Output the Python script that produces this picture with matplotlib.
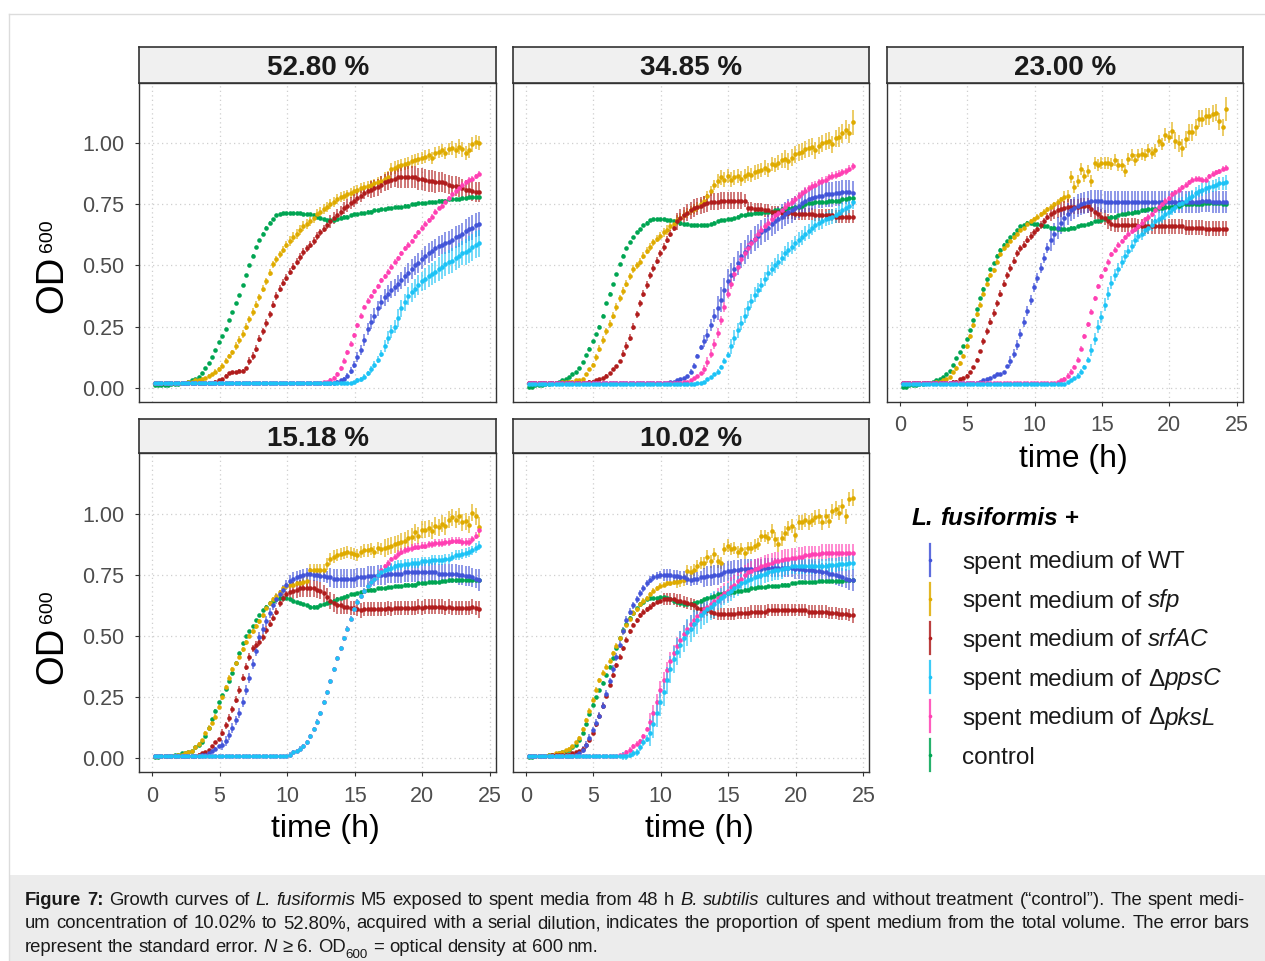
import numpy as np
import matplotlib
matplotlib.use("Agg")
import matplotlib.pyplot as plt
from matplotlib.lines import Line2D
from matplotlib.patches import Rectangle
from matplotlib import font_manager

plt.rcParams['font.family'] = ['Liberation Sans', 'DejaVu Sans']

W, H, DPI = 1265, 961, 100

# sampling times (h), one reading every 15 min
TIME_H = 0.2 + 0.25 * np.arange(97)

PANEL_LABELS = ["52.80 %", "34.85 %", "23.00 %", "15.18 %", "10.02 %"]
SERIES_KEYS = ["WT", "sfp", "srfAC", "ppsC", "pksL", "control"]
COLORS = {"WT": "#4254d8", "sfp": "#dfab00", "srfAC": "#b01d1d",
          "ppsC": "#1cc3f6", "pksL": "#ff40b3", "control": "#00a552"}
DRAW_ORDER = ["control", "sfp", "srfAC", "WT", "pksL", "ppsC"]
XTICKS = [0, 5, 10, 15, 20, 25]
YTICKS = [0.0, 0.25, 0.5, 0.75, 1.0]
YTICK_LABELS = ["0.00", "0.25", "0.50", "0.75", "1.00"]

# ---------------- OD600 means and SE, in units of 0.01 ----------------
# ---- 52.80 % ----
CTRL_52 = [
 1,1,1,1, 1,1.5,1.5,1.5, 2,2,2.5,3, 3.5,4.5,6,8,
 10,12.5,15.5,18.5, 21,24,27.5,31, 34.5,38,42,46, 50,54,57.5,60.5,
 63,65.5,67.5,69, 70.5,71,71.5,71.5, 71.5,71.5,71.5,71.5, 71,71,71,70.5,
 70,69.5,69,68.5, 68.5,68.5,69,69.5, 70,70,70.5,71, 71,71.5,71.5,72,
 72,72.5,72.5,73, 73,73.5,73.5,74, 74,74,74.5,74.5, 75,75,75.5,75.5,
 75.5,76,76,76, 76.5,76.5,76.5,77, 77,77,77,77.5, 77.5,78,78,78,
 78]
CTRL_52_SE = [
 0,0,0,0, 0,0,0,0, 0,0,0,0, 0,0,0,0,
 .5,.5,.5,.5, .5,.5,.5,.5, .5,.5,.5,.5, .5,.5,.5,.5,
 .5,.5,.5,.5, .5,.5,.5,.5, .5,.5,.5,.5, .5,.5,.5,.5,
 .5,.5,.5,.5, .5,.5,.5,.5, .5,.5,.5,.5, .5,.5,.5,.5,
 .5,.5,.5,.5, .5,.5,.5,.5, .5,.5,.5,.5, .5,.5,.5,.5,
 .5,.5,.5,.5, .5,.5,.5,.5, .5,.5,.5,.5, .5,.5,.5,.5,
 .5]
SFP_52 = [
 2,2,2,2, 2,2,2,2, 2,2,2.5,2.5, 3,3,3.5,4,
 5,5.5,6.5,7.5, 9,11,13,14.5, 17,19.5,22,25, 28,31,34,37,
 40.5,43.5,47,50.5, 52.5,54.5,56.5,58.5, 60,61.5,63,64.5, 66,67,68,69.5,
 71,72,73,74, 75,76,77,78, 78.5,79,79.5,80.5, 81,81.5,82,82.5,
 83,83.5,84,84.5, 85.5,86,89.5,90, 90.5,91,91.5,92, 92.5,93,93.5,94,
 94.5,95,94,96, 96.5,97,96,97.5, 98,97,98.5,97.5, 96,97,99.5,100.5,
 100]
SFP_52_SE = [
 .5,.5,.5,.5, .5,.5,.5,.5, .5,.5,.5,.5, .5,.5,.5,.5,
 .5,.5,1,1, 1,1,1,1, 1.5,1.5,1.5,1.5, 1.5,1.5,1.5,1.5,
 1.5,1.5,1.5,1.5, 1.5,1.5,1.5,1.5, 2,2,2,2, 2,2,2,2,
 2,2,2,2, 2,2,2,2, 2,2,2,2, 2,2,2,2,
 2,2,2,2, 2.5,2.5,2.5,2.5, 2.5,2.5,2.5,2.5, 2.5,2.5,2.5,2.5,
 2.5,2.5,2.5,2.5, 2.5,2.5,2.5,2.5, 3,3,3,3, 3,3,3,3,
 3]
SRF_52 = [
 2,2,2,2, 2,2,2,2, 2,2,2,2, 2,2,2,2,
 2,2,2.5,3, 3.5,5,6,6.5, 6.5,7,7,8, 11,13,16,20,
 23,26.5,30,34, 37.5,40.5,43,45, 47.5,49.5,51.5,53.5, 55.5,57,58.5,60,
 62,63.5,65,66.5, 68,69.5,70.5,72, 73.5,74.5,75.5,76.5, 77.5,78.5,79.5,80.5,
 81,81.5,82,83, 84,84.5,85,85.5, 86,86,86,86, 86,86,85.5,85.5,
 85,84.5,84.5,84, 84,84,83.5,83, 82.5,82.5,82,81.5, 81,81,80.5,80,
 80]
SRF_52_SE = [
 .5,.5,.5,.5, .5,.5,.5,.5, .5,.5,.5,.5, .5,.5,.5,.5,
 .5,.5,.5,.5, .5,.5,.5,.5, .5,.5,.5,.5, 1.5,1.5,1.5,1.5,
 1.5,1.5,1.5,1.5, 1.5,1.5,1.5,1.5, 1.5,1.5,1.5,1.5, 1.5,1.5,1.5,1.5,
 1.5,1.5,1.5,1.5, 2.5,2.5,2.5,2.5, 2.5,2.5,2.5,2.5, 2.5,2.5,2.5,2.5,
 3.5,3.5,3.5,3.5, 3.5,3.5,3.5,3.5, 4.5,4.5,4.5,4.5, 4.5,4.5,4.5,4.5,
 4.5,4.5,4.5,4.5, 4,4,4,4, 4,4,4,4, 4,4,4,4,
 4]
WT_52 = [
 2,2,2,2, 2,2,2,2, 2,2,2,2, 2,2,2,2,
 2,2,2,2, 2,2,2,2, 2,2,2,2, 2,2,2,2,
 2,2,2,2, 2,2,2,2, 2,2,2,2, 2,2,2,2,
 2,2,2,2, 2,2,2.5,3, 3.5,5,7,9.5, 12.5,15.5,19.5,24,
 27,29.5,32.5,35, 37,38.5,40,41, 42.5,44,45.5,47, 48.5,50,51,52.5,
 54,55,56,57, 58,58.5,59,59.5, 60.5,61.5,62,63, 64,65,65.5,66.5,
 67]
WT_52_SE = [
 0,0,0,0, 0,0,0,0, 0,0,0,0, 0,0,0,0,
 0,0,0,0, 0,0,0,0, 0,0,0,0, 0,0,0,0,
 0,0,0,0, 0,0,0,0, 0,0,0,0, 0,0,0,0,
 0,0,0,0, 0,0,.5,.5, 1,1,1.5,1.5, 2,2,2.5,2.5,
 3,3,3,3, 3.5,3.5,3.5,3.5, 3.5,3.5,4,4, 4,4,4,4,
 4,4,4,4, 4,4,4.5,4.5, 4.5,4.5,4.5,4.5, 5,5,5,5,
 5]
PKS_52 = [
 2,2,2,2, 2,2,2,2, 2,2,2,2, 2,2,2,2,
 2,2,2,2, 2,2,2,2, 2,2,2,2, 2,2,2,2,
 2,2,2,2, 2,2,2,2, 2,2,2,2, 2,2,2,2,
 2,2,2.5,2.5, 3,4,5.5,8, 11,14.5,18,21.5, 25.5,29.5,33,35.5,
 37.5,39.5,41.5,44, 45.5,47.5,49.5,51.5, 53,55,57,58.5, 60,62,63.5,65.5,
 67,68.5,70,72, 73.5,74.5,76,77.5, 79,80.5,81.5,83, 84,85,85.5,86.5,
 87.5]
PKS_52_SE = [
 0,0,0,0, 0,0,0,0, 0,0,0,0, 0,0,0,0,
 0,0,0,0, 0,0,0,0, 0,0,0,0, 0,0,0,0,
 0,0,0,0, 0,0,0,0, 0,0,0,0, 0,0,0,0,
 0,0,0,0, 1,1,1,1, 1,1,1,1, 1,1,1,1,
 1,1,1,1, 1,1,1,1, 1,1,1,1, 1,1,1,1,
 1,1,1,1, 1,1,1,1, 1,1,1,1, 1,1,1,1,
 1]
PPS_52 = [
 2,2,2,2, 2,2,2,2, 2,2,2,2, 2,2,2,2,
 2,2,2,2, 2,2,2,2, 2,2,2,2, 2,2,2,2,
 2,2,2,2, 2,2,2,2, 2,2,2,2, 2,2,2,2,
 2,2,2,2, 2,2,2,2, 2,2,2,2.5, 3,3.5,4.5,6,
 7.5,9.5,11.5,14, 17,20.5,23,25, 28.5,32.5,35,37.5, 39,40.5,42,43.5,
 44.5,45.5,46.5,47.5, 48.5,49.5,50.5,51.5, 52,53,54,55, 55.5,56.5,57.5,58.5,
 59]
PPS_52_SE = [
 0,0,0,0, 0,0,0,0, 0,0,0,0, 0,0,0,0,
 0,0,0,0, 0,0,0,0, 0,0,0,0, 0,0,0,0,
 0,0,0,0, 0,0,0,0, 0,0,0,0, 0,0,0,0,
 0,0,0,0, 0,0,0,0, 0,0,0,0, 1,1,1,1,
 1.5,1.5,1.5,1.5, 2.5,2.5,2.5,2.5, 3.5,3.5,3.5,3.5, 4,4,4,4,
 4.5,4.5,4.5,4.5, 5,5,5,5, 5,5,5,5, 5.5,5.5,5.5,5.5,
 5.5]

# ---- 34.85 % ----
CTRL_34 = [
 .5,.5,1,1, 1,1.5,1.5,2, 2,2.5,3,3.5, 4.5,5.5,6.5,8,
 10.5,13.5,16,19, 22,25,29.5,34.5, 38.5,42.5,46.5,50.5, 54,57,59.5,61.5,
 63.5,65,66.5,67.5, 68.5,69,69,69, 69,68.5,68.5,68, 68,67.5,67,67,
 66.5,66.5,66.5,66.5, 66.5,66.5,67,67.5, 68,68.5,68.5,69, 69,69.5,70,70.5,
 70.5,71,71,71.5, 71.5,71.5,72,72, 72,72.5,72.5,73, 73,73.5,73.5,74,
 74,74.5,75,75.5, 75.5,76,76,76, 76,76.5,76.5,76.5, 76.5,77,77,77.5,
 77.5]
CTRL_34_SE = [
 0,0,0,0, 0,0,0,0, 0,0,0,0, 0,0,0,0,
 .5,.5,.5,.5, .5,.5,.5,.5, .5,.5,.5,.5, .5,.5,.5,.5,
 .5,.5,.5,.5, .5,.5,.5,.5, .5,.5,.5,.5, .5,.5,.5,.5,
 .5,.5,.5,.5, .5,.5,.5,.5, .5,.5,.5,.5, .5,.5,.5,.5,
 .5,.5,.5,.5, .5,.5,.5,.5, .5,.5,.5,.5, .5,.5,.5,.5,
 .5,.5,.5,.5, .5,.5,.5,.5, .5,.5,.5,.5, .5,.5,.5,.5,
 .5]
SFP_34 = [
 2,2,2,2, 2,2,2,2, 2,2,2.5,2.5, 2.5,2.5,3,3,
 3.5,5.5,7.5,9.5, 12.5,16,19.5,23, 26,29.5,33,36.5, 39.5,42.5,45.5,48.5,
 50,51.5,54,56, 57.5,59.5,61,62, 63.5,64.5,66,67, 68.5,69.5,70.5,71.5,
 72.5,73,74,75, 76.5,78.5,80.5,83, 84.5,86,85,86.5, 85,86,86.5,85.5,
 86.5,87.5,87,88, 88.5,89,90,89, 91.5,91,92,93, 93.5,92.5,94,95.5,
 96,96.5,97.5,98, 98.5,97,99,100, 100.5,101,99.5,102, 102.5,104,105.5,104,
 108.5]
SFP_34_SE = [
 .5,.5,.5,.5, .5,.5,.5,.5, .5,.5,.5,.5, .5,.5,.5,.5,
 .5,.5,.5,.5, 1.5,1.5,1.5,1.5, 1.5,1.5,1.5,1.5, 1.5,1.5,1.5,1.5,
 1.5,1.5,1.5,1.5, 1.5,1.5,1.5,1.5, 2,2,2,2, 2,2,2,2,
 2,2,2,2, 2,2,2,2, 3,3,3,3, 3,3,3,3,
 3,3,3,3, 3,3,3,3, 3,3,3,3, 3.5,3.5,3.5,3.5,
 3.5,3.5,3.5,3.5, 3.5,3.5,3.5,3.5, 3.5,3.5,3.5,3.5, 4,4,4,4,
 5]
SRF_34 = [
 2,2,2,2, 2,2,2,2, 2,2,2,2, 2,2,2,2,
 2,2,2.5,2.5, 3,3.5,4,5, 6,7.5,9,11, 14,17,20.5,25,
 30,34.5,38.5,42, 46,49,52,55, 57.5,60.5,63,65.5, 68,69.5,70.5,71.5,
 72.5,73.5,74,74.5, 75,75.5,76,76, 76,76.5,76.5,76.5, 76.5,76.5,76.5,76.5,
 76.5,73.5,73.5,73, 73,73,72.5,72.5, 72,72,72,71.5, 71.5,71.5,71.5,71,
 71,71,71,71, 71,70.5,70.5,70.5, 70.5,70.5,70.5,70, 70,70,70,70,
 70]
SRF_34_SE = [
 .5,.5,.5,.5, .5,.5,.5,.5, .5,.5,.5,.5, .5,.5,.5,.5,
 .5,.5,.5,.5, .5,.5,.5,.5, .5,.5,.5,.5, 1.5,1.5,1.5,1.5,
 1.5,1.5,1.5,1.5, 1.5,1.5,1.5,1.5, 1.5,1.5,1.5,1.5, 3.5,3.5,3.5,3.5,
 3.5,3.5,3.5,3.5, 3.5,3.5,3.5,3.5, 3.5,3.5,3.5,3.5, 3.5,3.5,3.5,3.5,
 2.5,2.5,2.5,2.5, 2.5,2.5,2.5,2.5, 2.5,2.5,2.5,2.5, 2.5,2.5,2.5,2.5,
 2.5,2.5,2.5,2.5, 2.5,2.5,2.5,2.5, 2.5,2.5,2.5,2.5, 2.5,2.5,2.5,2.5,
 2.5]
WT_34 = [
 2,2,2,2, 2,2,2,2, 2,2,2,2, 2,2,2,2,
 2,2,2,2, 2,2,2,2, 2,2,2,2, 2,2,2,2,
 2,2,2,2, 2,2,2,2, 2,2,2.5,2.5, 3,3.5,4,5,
 6.5,9,13,16.5, 19,21.5,25.5,29.5, 32.5,36,40,43.5, 46,48.5,51,54,
 55.5,57.5,59.5,61, 62,63.5,64.5,65.5, 67,68,69,70, 71,72,72.5,73.5,
 74.5,75.5,76.5,77, 77.5,78,78.5,78.5, 79,79,79,79.5, 79.5,80,80,80,
 79.5]
WT_34_SE = [
 0,0,0,0, 0,0,0,0, 0,0,0,0, 0,0,0,0,
 0,0,0,0, 0,0,0,0, 0,0,0,0, 0,0,0,0,
 0,0,0,0, 0,0,0,0, 0,0,0,0, 0,0,0,0,
 1,1,1,1, 2.5,2.5,2.5,2.5, 5,5,5,5, 5,5,5,5,
 5,5,5,5, 5,5,5,5, 5,5,5,5, 5,5,5,5,
 5,5,5,5, 5,5,5,5, 5,5,5,5, 5,5,5,5,
 5]
PKS_34 = [
 2,2,2,2, 2,2,2,2, 2,2,2,2, 2,2,2,2,
 2,2,2,2, 2,2,2,2, 2,2,2,2, 2,2,2,2,
 2,2,2,2, 2,2,2,2, 2,2,2,2, 2,2,2.5,2.5,
 3,4,5,6, 7.5,10.5,14,18, 22.5,27.5,33,38.5, 42.5,46.5,49.5,52.5,
 55,57,59,61, 63,64.5,66,67.5, 69,70.5,71.5,72.5, 74,75,76,77,
 78.5,79.5,80.5,81.5, 82.5,83,84,84.5, 85,86,86.5,87, 87.5,88,88.5,89.5,
 90.5]
PKS_34_SE = [
 0,0,0,0, 0,0,0,0, 0,0,0,0, 0,0,0,0,
 0,0,0,0, 0,0,0,0, 0,0,0,0, 0,0,0,0,
 0,0,0,0, 0,0,0,0, 0,0,0,0, 0,0,0,0,
 0,0,0,0, 2,2,2,2, 2,2,2,2, 2,2,2,2,
 2,2,2,2, 1.5,1.5,1.5,1.5, 1.5,1.5,1.5,1.5, 1.5,1.5,1.5,1.5,
 1.5,1.5,1.5,1.5, 1.5,1.5,1.5,1.5, 1.5,1.5,1.5,1.5, 1.5,1.5,1.5,1.5,
 1.5]
PPS_34 = [
 1.5,1.5,1.5,1.5, 1.5,1.5,1.5,1.5, 1.5,1.5,1.5,1.5, 1.5,1.5,1.5,1.5,
 1.5,1.5,1.5,1.5, 1.5,1.5,1.5,1.5, 1.5,1.5,1.5,1.5, 1.5,1.5,1.5,1.5,
 1.5,1.5,1.5,1.5, 1.5,1.5,1.5,1.5, 1.5,1.5,1.5,1.5, 1.5,1.5,1.5,1.5,
 1.5,1.5,2,2, 2.5,3.5,4.5,5.5, 6.5,8.5,11,13.5, 17,20.5,23.5,26.5,
 29.5,32.5,35.5,38, 40,42,44.5,47, 48.5,50,51.5,53, 55,56.5,57.5,59,
 60.5,61.5,63,64, 65.5,66.5,67.5,68, 69,69.5,70,70.5, 71.5,72.5,73.5,74.5,
 76]
PPS_34_SE = [
 0,0,0,0, 0,0,0,0, 0,0,0,0, 0,0,0,0,
 0,0,0,0, 0,0,0,0, 0,0,0,0, 0,0,0,0,
 0,0,0,0, 0,0,0,0, 0,0,0,0, 0,0,0,0,
 0,0,0,0, 0,0,0,0, 1,1,1,1, 3,3,3,3,
 3,3,3,3, 3,3,3,3, 3,3,3,3, 3,3,3,3,
 3,3,3,3, 3,3,3,3, 3,3,3,3, 3,3,3,3,
 3]

# ---- 23.00 % ----
CTRL_23 = [
 .5,.5,1,1, 1,1.5,1.5,2, 2,2.5,3,3.5, 4.5,5.5,7,9.5,
 12,14.5,17,20, 23.5,27.5,32,36.5, 40.5,44.5,48.5,51, 54,56.5,58.5,60,
 61.5,63,64.5,66, 66.5,67.5,67.5,67, 67,66.5,66,66, 65.5,65.5,65,65,
 65,65,65.5,65.5, 66,66.5,66.5,67, 67.5,68,68,68.5, 69,69.5,70,70,
 70.5,71,71,71.5, 71.5,72,72,72.5, 72.5,73,73,73, 73.5,73.5,74,74,
 74,74.5,74.5,75, 75,75,75,75, 75,75,75.5,75.5, 75.5,75.5,75.5,75,
 75]
CTRL_23_SE = [
 0,0,0,0, 0,0,0,0, 0,0,0,0, 0,0,0,0,
 .5,.5,.5,.5, .5,.5,.5,.5, .5,.5,.5,.5, .5,.5,.5,.5,
 .5,.5,.5,.5, .5,.5,.5,.5, .5,.5,.5,.5, .5,.5,.5,.5,
 .5,.5,.5,.5, .5,.5,.5,.5, .5,.5,.5,.5, .5,.5,.5,.5,
 .5,.5,.5,.5, .5,.5,.5,.5, .5,.5,.5,.5, .5,.5,.5,.5,
 .5,.5,.5,.5, .5,.5,.5,.5, .5,.5,.5,.5, .5,.5,.5,.5,
 .5]
SFP_23 = [
 2,2,2,2, 2,2,2,2, 2,2,2.5,2.5, 3,3.5,4.5,6.5,
 8,10,13,17, 21,25.5,30,34, 38.5,42.5,46,48, 51.5,54.5,57,58.5,
 60,61.5,63,64.5, 65.5,67,68,69, 70,71,72,73, 74,75,76,77,
 78,78.5,86,82, 84.5,89.5,86.5,88.5, 84.5,92,91,92, 92,92,91.5,93,
 91,91,88.5,93.5, 95,93,95,95.5, 95,97,96,97, 101,99.5,103.5,102.5,
 105,101,100,98, 101.5,104.5,104.5,106.5, 110,110,111,111, 112,112.5,109,106.5,
 114]
SFP_23_SE = [
 .5,.5,.5,.5, .5,.5,.5,.5, .5,.5,.5,.5, .5,.5,.5,.5,
 1,1,1,1, 1,1,1,1, 1,1,1,1, 1,1,1,1,
 1,1,1,1, 1,1,1,1, 1,1,1,1, 1,1,1,1,
 2.5,2.5,2.5,2.5, 2.5,2.5,2.5,2.5, 2.5,2.5,2.5,2.5, 2.5,2.5,2.5,2.5,
 2.5,2.5,2.5,2.5, 2.5,2.5,2.5,2.5, 2.5,2.5,2.5,2.5, 2.5,2.5,2.5,2.5,
 3.5,3.5,3.5,3.5, 3.5,3.5,3.5,3.5, 3.5,3.5,3.5,3.5, 3.5,3.5,3.5,3.5,
 5]
SRF_23 = [
 2,2,2,2, 2,2,2,2, 2,2,2,2, 2,2,2,2.5,
 2.5,3.5,4,5, 6.5,8.5,11.5,15, 19,23,27,30.5, 34.5,38.5,42.5,46,
 49,52,55,57, 58.5,60.5,62,63.5, 65,66.5,68,70, 71,72,72.5,73,
 73.5,74,74,74, 74,74.5,74.5,74.5, 73,72,71,70, 69.5,68,67,66.5,
 66.5,66.5,66.5,66.5, 66.5,66.5,66,66, 66,66,66,66, 66,66,66,66,
 66,66,66,66, 65.5,65.5,65.5,65.5, 65.5,65.5,65,65, 65,65,65,65,
 65]
SRF_23_SE = [
 .5,.5,.5,.5, .5,.5,.5,.5, .5,.5,.5,.5, .5,.5,.5,.5,
 .5,.5,.5,.5, .5,.5,.5,.5, 1.5,1.5,1.5,1.5, 1.5,1.5,1.5,1.5,
 1.5,1.5,1.5,1.5, 1.5,1.5,1.5,1.5, 1.5,1.5,1.5,1.5, 3,3,3,3,
 3,3,3,3, 3,3,3,3, 3,3,3,3, 3,3,3,3,
 3,3,3,3, 3,3,3,3, 3,3,3,3, 3,3,3,3,
 3,3,3,3, 3,3,3,3, 3,3,3,3, 3,3,3,3,
 3]
WT_23 = [
 2,2,2,2, 2,2,2,2, 2,2,2,2, 2,2,2,2,
 2,2,2,2, 2,2,2,2.5, 3,3.5,4,5, 5.5,5.5,6.5,9,
 11,14,17.5,22, 27,31.5,36,41, 45,49,53,57, 60.5,63,65.5,67.5,
 69.5,71,72.5,73.5, 74.5,75,75.5,76, 76.5,76.5,76.5,76.5, 76,76,76,76,
 76,76,76,76, 76,76,76,76, 76,76,76,76, 76,76,76,76,
 76,76,76,76, 76,76,76,76, 76,76.5,76.5,76.5, 76,76,76,76,
 76]
WT_23_SE = [
 0,0,0,0, 0,0,0,0, 0,0,0,0, 0,0,0,0,
 0,0,0,0, 0,0,0,0, 0,0,0,0, .5,.5,.5,.5,
 2,2,2,2, 2,2,2,2, 2,2,2,2, 4.5,4.5,4.5,4.5,
 4.5,4.5,4.5,4.5, 4.5,4.5,4.5,4.5, 4.5,4.5,4.5,4.5, 4.5,4.5,4.5,4.5,
 4.5,4.5,4.5,4.5, 4.5,4.5,4.5,4.5, 4.5,4.5,4.5,4.5, 4.5,4.5,4.5,4.5,
 4.5,4.5,4.5,4.5, 4.5,4.5,4.5,4.5, 4.5,4.5,4.5,4.5, 4.5,4.5,4.5,4.5,
 4.5]
PKS_23 = [
 2,2,2,2, 2,2,2,2, 2,2,2,2, 2,2,2,2,
 2,2,2,2, 2,2,2,2, 2,2,2,2, 2,2,2,2,
 2,2,2,2, 2,2,2,2, 2,2,2,2, 2,2,2.5,3,
 3.5,5,6.5,8.5, 11.5,16,21,26, 31,36.5,41.5,45.5, 48.5,51.5,54.5,56.5,
 58.5,60,61.5,63, 64,65,66,67.5, 69,70,71,72.5, 74,75,76.5,77.5,
 79,80,81,82, 83,84,85,85.5, 85.5,85,85,86.5, 87.5,88,88.5,89.5,
 90]
PKS_23_SE = [
 0,0,0,0, 0,0,0,0, 0,0,0,0, 0,0,0,0,
 0,0,0,0, 0,0,0,0, 0,0,0,0, 0,0,0,0,
 0,0,0,0, 0,0,0,0, 0,0,0,0, 0,0,0,0,
 1,1,1,1, 1,1,1,1, 1,1,1,1, 1,1,1,1,
 1,1,1,1, 1,1,1,1, 1,1,1,1, 1,1,1,1,
 1,1,1,1, 1,1,1,1, 1,1,1,1, 1,1,1,1,
 1]
PPS_23 = [
 1.5,1.5,1.5,1.5, 1.5,1.5,1.5,1.5, 1.5,1.5,1.5,1.5, 1.5,1.5,1.5,1.5,
 1.5,1.5,1.5,1.5, 1.5,1.5,1.5,1.5, 1.5,1.5,1.5,1.5, 1.5,1.5,1.5,1.5,
 1.5,1.5,1.5,1.5, 1.5,1.5,1.5,1.5, 1.5,1.5,1.5,1.5, 1.5,1.5,1.5,1.5,
 1.5,2.5,3,4, 5,6.5,8.5,11.5, 15.5,20,25,29, 34,38.5,43,46,
 48.5,51.5,54,56, 58,60.5,62,63, 64.5,65.5,66.5,68, 69,70,71,72,
 73,74,75,75.5, 76.5,77.5,78.5,79.5, 80.5,81,81.5,82, 82.5,83,83.5,83.5,
 84]
PPS_23_SE = [
 0,0,0,0, 0,0,0,0, 0,0,0,0, 0,0,0,0,
 0,0,0,0, 0,0,0,0, 0,0,0,0, 0,0,0,0,
 0,0,0,0, 0,0,0,0, 0,0,0,0, 0,0,0,0,
 0,0,0,0, 1,1,1,1, 2.5,2.5,2.5,2.5, 2.5,2.5,2.5,2.5,
 2.5,2.5,2.5,2.5, 2.5,2.5,2.5,2.5, 2.5,2.5,2.5,2.5, 2.5,2.5,2.5,2.5,
 2.5,2.5,2.5,2.5, 2.5,2.5,2.5,2.5, 2.5,2.5,2.5,2.5, 2.5,2.5,2.5,2.5,
 3]

# ---- 15.18 % ----
CTRL_15 = [
 .5,.5,1,1, 1,1,1.5,1.5, 2,2,2.5,3, 4.5,5.5,6.5,9,
 12.5,16,19.5,23, 26,28.5,31.5,35, 39,43,47,50, 52,54,56.5,58.5,
 60.5,62,63.5,64.5, 65,65.5,65.5,65.5, 65,64.5,64,63.5, 63,62.5,62,62,
 62,62.5,63,63.5, 64,64.5,65,65.5, 66,66.5,67,67, 67.5,68,68.5,69,
 69,69,69.5,69.5, 69.5,70,70,70.5, 70.5,70.5,71,71, 71,71,71.5,71.5,
 71.5,72,72,72, 72,72.5,72.5,73, 73,73,73,73, 73,73,73,73,
 73]
CTRL_15_SE = [
 0,0,0,0, 0,0,0,0, 0,0,0,0, 0,0,0,0,
 .5,.5,.5,.5, .5,.5,.5,.5, .5,.5,.5,.5, .5,.5,.5,.5,
 .5,.5,.5,.5, .5,.5,.5,.5, .5,.5,.5,.5, .5,.5,.5,.5,
 .5,.5,.5,.5, .5,.5,.5,.5, .5,.5,.5,.5, .5,.5,.5,.5,
 .5,.5,.5,.5, .5,.5,.5,.5, .5,.5,.5,.5, .5,.5,.5,.5,
 .5,.5,.5,.5, .5,.5,.5,.5, .5,.5,.5,.5, .5,.5,.5,.5,
 .5]
SFP_15 = [
 1,1,1,1, 1,1,1,1.5, 1.5,2,2.5,3, 4.5,6,7.5,10.5,
 12.5,14.5,17,21, 25,29,33,36.5, 39,41.5,44.5,47.5, 50,52,54,56,
 58.5,61.5,63.5,65, 66.5,68,69.5,70.5, 71,71,71.5,71.5, 72,72.5,77,77,
 77,77,77,79.5, 81.5,82.5,83,83.5, 84,84.5,84,83.5, 83,84.5,85,85,
 85.5,84.5,86,85.5, 86,86.5,87,87.5, 88,88.5,89,90, 90.5,92.5,91,93.5,
 93.5,94,93,95, 94.5,96,95,97.5, 98.5,97.5,99,96.5, 97,95.5,100.5,99,
 94.5]
SFP_15_SE = [
 .5,.5,.5,.5, .5,.5,.5,.5, .5,.5,.5,.5, .5,.5,.5,.5,
 1,1,1,1, 1,1,1,1, 1,1,1,1, 1,1,1,1,
 1,1,1,1, 1,1,1,1, 1,1,1,1, 2.5,2.5,2.5,2.5,
 2.5,2.5,2.5,2.5, 2.5,2.5,2.5,2.5, 2.5,2.5,2.5,2.5, 2.5,2.5,2.5,2.5,
 2.5,2.5,2.5,2.5, 3.5,3.5,3.5,3.5, 3.5,3.5,3.5,3.5, 3.5,3.5,3.5,3.5,
 3.5,3.5,3.5,3.5, 3.5,3.5,3.5,3.5, 3.5,3.5,3.5,3.5, 3.5,3.5,3.5,3.5,
 4]
SRF_15 = [
 1,1,1,1, 1,1,1,1, 1,1,1,1, 1,1.5,2,2.5,
 3.5,5,6.5,8, 10.5,13.5,16.5,20, 24,28,33,37.5, 41.5,45,46.5,47.5,
 49.5,52.5,55,57.5, 60,63.5,65.5,67, 68,68.5,69,69.5, 69.5,69.5,69.5,69.5,
 69,68.5,67.5,66, 64.5,63.5,62.5,62.5, 62,62,61.5,61.5, 61,60.5,61,61,
 61,61,61,61, 61,61.5,61,61.5, 61.5,61.5,61.5,61.5, 61.5,61.5,62,61.5,
 62,62,62,62, 62,62,61.5,62, 61.5,61.5,61.5,61.5, 61.5,61.5,62,61.5,
 61]
SRF_15_SE = [
 .5,.5,.5,.5, .5,.5,.5,.5, .5,.5,.5,.5, .5,.5,.5,.5,
 .5,.5,.5,.5, 1.5,1.5,1.5,1.5, 1.5,1.5,1.5,1.5, 1.5,1.5,1.5,1.5,
 1.5,1.5,1.5,1.5, 1.5,1.5,1.5,1.5, 3.5,3.5,3.5,3.5, 3.5,3.5,3.5,3.5,
 3.5,3.5,3.5,3.5, 3.5,3.5,3.5,3.5, 3,3,3,3, 3,3,3,3,
 3,3,3,3, 3,3,3,3, 3,3,3,3, 3,3,3,3,
 3,3,3,3, 3,3,3,3, 3,3,3,3, 3,3,3,3,
 3.5]
WT_15 = [
 1,1,1,1, 1,1,1,1, 1,1,1,1, 1,1,1.5,1.5,
 2,3,4,5, 5.5,7,9.5,12.5, 15.5,18.5,23,28, 33,38.5,44,49.5,
 53,56,59.5,62.5, 65,67,69,71, 72.5,73.5,74,74.5, 75,75.5,75.5,75,
 75,74.5,74.5,74, 74,73.5,73.5,73.5, 73.5,73.5,73.5,73.5, 74,74,74,74.5,
 74.5,74.5,75,75, 75,75.5,75.5,75.5, 75.5,75.5,76,76, 76,76,76,76,
 76,76,76,76, 75.5,75.5,75.5,75.5, 75.5,75.5,75,75, 74.5,74.5,74,73.5,
 73]
WT_15_SE = [
 .5,.5,.5,.5, .5,.5,.5,.5, .5,.5,.5,.5, .5,.5,.5,.5,
 .5,.5,.5,.5, 2,2,2,2, 2,2,2,2, 2,2,2,2,
 2,2,2,2, 2,2,2,2, 2.5,2.5,2.5,2.5, 2.5,2.5,2.5,2.5,
 2.5,2.5,2.5,2.5, 4,4,4,4, 4,4,4,4, 4,4,4,4,
 4,4,4,4, 4,4,4,4, 4,4,4,4, 4,4,4,4,
 4,4,4,4, 4,4,4,4, 4,4,4,4, 4,4,4,4,
 4.5]
PKS_15 = [
 1,1,1,1, 1,1,1,1, 1,1,1,1, 1,1,1,1,
 1,1,1,1, 1,1,1,1, 1,1,1,1, 1,1,1,1,
 1,1,1,1, 1,1,1,1, 1.5,2.5,3,4, 5,6.5,9,12,
 15,18.5,23,27, 31.5,36.5,41,45, 49,53,57,61, 64,66.5,68.5,70.5,
 72,73.5,75,77, 78.5,80,81.5,82.5, 83.5,84.5,85,85.5, 86,86.5,86.5,87,
 87,87.5,87.5,88, 88,88,88.5,88.5, 89,89,89,88.5, 88.5,88.5,89.5,91,
 93.5]
PKS_15_SE = [
 0,0,0,0, 0,0,0,0, 0,0,0,0, 0,0,0,0,
 0,0,0,0, 0,0,0,0, 0,0,0,0, 0,0,0,0,
 0,0,0,0, 0,0,0,0, 1,1,1,1, 1,1,1,1,
 1,1,1,1, 1,1,1,1, 1,1,1,1, 1,1,1,1,
 1,1,1,1, 1,1,1,1, 1.5,1.5,1.5,1.5, 1.5,1.5,1.5,1.5,
 1.5,1.5,1.5,1.5, 1.5,1.5,1.5,1.5, 1.5,1.5,1.5,1.5, 1.5,1.5,1.5,1.5,
 1.5]
PPS_15 = [
 1,1,1,1, 1,1,1,1, 1,1,1,1, 1,1,1,1,
 1,1,1,1, 1,1,1,1, 1,1,1,1, 1,1,1,1,
 1,1,1,1, 1,1,1,1, 1.5,2.5,3,4, 5,6.5,9,12,
 15,18.5,23,27, 31.5,36.5,41,45, 49,53,57,61, 64,66.5,68.5,70.5,
 72,73.5,75,76, 77,77.5,78,78.5, 79,79,79.5,79.5, 80,80,80,80.5,
 80.5,80.5,81,81, 81,81,81.5,81.5, 82.5,83,83,83.5, 84,84.5,85,86,
 87]
PPS_15_SE = [
 0,0,0,0, 0,0,0,0, 0,0,0,0, 0,0,0,0,
 0,0,0,0, 0,0,0,0, 0,0,0,0, 0,0,0,0,
 0,0,0,0, 0,0,0,0, 1,1,1,1, 1,1,1,1,
 1,1,1,1, 1,1,1,1, 1,1,1,1, 1,1,1,1,
 2,2,2,2, 2,2,2,2, 2,2,2,2, 2,2,2,2,
 2,2,2,2, 2,2,2,2, 2,2,2,2, 2,2,2,2,
 2]

# ---- 10.02 % ----
CTRL_10 = [
 .5,.5,1,1, 1,1,1.5,1.5, 1.5,2,2.5,3, 3.5,4.5,5.5,7.5,
 10.5,14,18,22, 25,28,31,34, 37.5,41,45,49, 52.5,55,57.5,59.5,
 61.5,63,64,65, 65.5,65.5,65.5,66, 66,65.5,65,64.5, 64,63.5,63,63,
 63,63.5,64,64.5, 65,65.5,66,66.5, 67,67,67.5,67.5, 68,68,68.5,68.5,
 69,69,69.5,69.5, 70,70,70,70.5, 70.5,70.5,70.5,71, 71,71,71.5,71.5,
 72,72,72,72, 72,72,72.5,72.5, 72.5,72.5,72.5,72.5, 72.5,72.5,73,73,
 73]
CTRL_10_SE = [
 0,0,0,0, 0,0,0,0, 0,0,0,0, 0,0,0,0,
 .5,.5,.5,.5, .5,.5,.5,.5, .5,.5,.5,.5, .5,.5,.5,.5,
 .5,.5,.5,.5, .5,.5,.5,.5, .5,.5,.5,.5, .5,.5,.5,.5,
 .5,.5,.5,.5, .5,.5,.5,.5, .5,.5,.5,.5, .5,.5,.5,.5,
 .5,.5,.5,.5, .5,.5,.5,.5, .5,.5,.5,.5, .5,.5,.5,.5,
 .5,.5,.5,.5, .5,.5,.5,.5, .5,.5,.5,.5, .5,.5,.5,.5,
 .5]
SFP_10 = [
 1,1,1,1, 1,1,1.5,1.5, 2,2,2.5,3.5, 4,5,6.5,8.5,
 12,15.5,19.5,24, 28,32,35,37.5, 40,43,46,49, 52,54.5,57,59.5,
 61,63,64.5,65.5, 67,68.5,69.5,70.5, 71,71.5,71.5,72, 72,72.5,73,76.5,
 76,77,78.5,80, 80,82.5,80.5,83.5, 80.5,80,85.5,87, 85.5,86,84.5,85.5,
 84,86,86,87, 87.5,91,91,90, 93,89.5,87.5,90, 92,94,95,91.5,
 96.5,96.5,97.5,96.5, 97.5,98.5,99,96.5, 99,97,101,102, 100.5,103,99,106,
 106.5]
SFP_10_SE = [
 .5,.5,.5,.5, .5,.5,.5,.5, .5,.5,.5,.5, .5,.5,.5,.5,
 1,1,1,1, 1,1,1,1, 1,1,1,1, 1,1,1,1,
 1,1,1,1, 1,1,1,1, 1,1,1,1, 2.5,2.5,2.5,2.5,
 2.5,2.5,2.5,2.5, 2.5,2.5,2.5,2.5, 2.5,2.5,2.5,2.5, 2.5,2.5,2.5,2.5,
 2.5,2.5,2.5,2.5, 2.5,2.5,2.5,2.5, 3,3,3,3, 3,3,3,3,
 3,3,3,3, 3,3,3,3, 3,3,3,3, 3,3,3,3,
 3.5]
SRF_10 = [
 1,1,1,1, 1,1,1,1.5, 1.5,1.5,1.5,1.5, 1.5,2,2.5,3,
 4,5.5,7.5,10.5, 14,17.5,21.5,25.5, 30,34,38,41.5, 45,48.5,52,54.5,
 56.5,58.5,60,61, 62,63,64,64.5, 65,65,65,65, 64.5,64.5,64,63.5,
 63,62.5,61.5,61, 61,60.5,60,59.5, 59,59,59,59, 59,59,59.5,59.5,
 59.5,59.5,60,60, 60,60,60,60.5, 60.5,60.5,60.5,60.5, 60.5,60.5,60.5,60.5,
 60.5,60.5,60.5,60, 60,60,60,60, 60,59.5,59.5,59.5, 59,59,59,58.5,
 58.5]
SRF_10_SE = [
 .5,.5,.5,.5, .5,.5,.5,.5, .5,.5,.5,.5, .5,.5,.5,.5,
 .5,.5,.5,.5, 1,1,1,1, 1,1,1,1, 1,1,1,1,
 1,1,1,1, 1,1,1,1, 2.5,2.5,2.5,2.5, 2.5,2.5,2.5,2.5,
 2.5,2.5,2.5,2.5, 2.5,2.5,2.5,2.5, 2.5,2.5,2.5,2.5, 2.5,2.5,2.5,2.5,
 2.5,2.5,2.5,2.5, 2.5,2.5,2.5,2.5, 2.5,2.5,2.5,2.5, 2.5,2.5,2.5,2.5,
 2.5,2.5,2.5,2.5, 2.5,2.5,2.5,2.5, 2.5,2.5,2.5,2.5, 2.5,2.5,2.5,2.5,
 3]
WT_10 = [
 1,1,1,1, 1,1,1,1, 1,1,1,1, 1,1,1.5,2,
 3.5,5.5,8.5,11.5, 14.5,17.5,21.5,26.5, 31.5,36.5,41.5,46.5, 52,56.5,60,62.5,
 65,67.5,69.5,71.5, 73,74,74.5,75, 75,75,75,74.5, 74.5,74,74,73.5,
 73,73.5,73.5,74, 74,74.5,74.5,75, 75,75.5,76,76.5, 76.5,77,77,77.5,
 77.5,77.5,77.5,77.5, 77.5,77.5,78,78, 78,78,78,78, 78,78,78,77.5,
 77.5,77.5,77,77, 77,76.5,76.5,76, 76,75.5,75.5,75, 74.5,74,73.5,73,
 73]
WT_10_SE = [
 .5,.5,.5,.5, .5,.5,.5,.5, .5,.5,.5,.5, .5,.5,.5,.5,
 1.5,1.5,1.5,1.5, 1.5,1.5,1.5,1.5, 1.5,1.5,1.5,1.5, 1.5,1.5,1.5,1.5,
 1.5,1.5,1.5,1.5, 1.5,1.5,1.5,1.5, 2.5,2.5,2.5,2.5, 2.5,2.5,2.5,2.5,
 2.5,2.5,2.5,2.5, 4,4,4,4, 4,4,4,4, 4,4,4,4,
 4,4,4,4, 4,4,4,4, 4,4,4,4, 4,4,4,4,
 4,4,4,4, 4,4,4,4, 4,4,4,4, 4,4,4,4,
 4.5]
PKS_10 = [
 1,1,1,1, 1,1,1,1, 1,1,1,1, 1,1,1,1,
 1,1,1,1, 1,1,1,1, 1,1,1,1.5, 1.5,2.5,3.5,5,
 6,7,9,12, 15,18.5,23,28, 32,36,40,43, 46,48.5,51,53,
 55,56.5,58,59.5, 61,62,63,64.5, 65.5,66.5,67.5,68.5, 70,71,72.5,73.5,
 75,76,76.5,77.5, 78,78.5,79,79.5, 80,80.5,80.5,81, 81.5,81.5,82,82,
 82.5,82.5,83,83, 83.5,83.5,83.5,84, 84,84,84,84, 84,84,84,84,
 84]
PKS_10_SE = [
 0,0,0,0, 0,0,0,0, 0,0,0,0, 0,0,0,0,
 0,0,0,0, 0,0,0,0, 0,0,0,0, 1,1,1,1,
 1,1,1,1, 3.5,3.5,3.5,3.5, 3.5,3.5,3.5,3.5, 3.5,3.5,3.5,3.5,
 3.5,3.5,3.5,3.5, 3.5,3.5,3.5,3.5, 4,4,4,4, 4,4,4,4,
 4,4,4,4, 4,4,4,4, 4,4,4,4, 4,4,4,4,
 4,4,4,4, 3.5,3.5,3.5,3.5, 3.5,3.5,3.5,3.5, 3.5,3.5,3.5,3.5,
 3.5]
PPS_10 = [
 1,1,1,1, 1,1,1,1, 1,1,1,1, 1,1,1,1,
 1,1,1,1, 1,1,1,1, 1,1,1,1, 1,1,1.5,2,
 2.5,4.5,6.5,8, 10.5,14,18.5,23, 27,32,36.5,40.5, 43.5,46.5,49,51.5,
 53,55,56.5,58.5, 60,61,62,63, 64.5,65.5,66.5,67.5, 68.5,69.5,70.5,71.5,
 72,73,73.5,74, 74.5,75,75.5,76, 76.5,77,77,77.5, 78,78,78.5,78.5,
 78.5,78.5,78.5,78.5, 78.5,78.5,78.5,78.5, 78.5,79,79,79, 79.5,79.5,79.5,80,
 80]
PPS_10_SE = [
 0,0,0,0, 0,0,0,0, 0,0,0,0, 0,0,0,0,
 0,0,0,0, 0,0,0,0, 0,0,0,0, 1.5,1.5,1.5,1.5,
 1.5,1.5,1.5,1.5, 5.5,5.5,5.5,5.5, 5.5,5.5,5.5,5.5, 5.5,5.5,5.5,5.5,
 5.5,5.5,5.5,5.5, 5.5,5.5,5.5,5.5, 4,4,4,4, 4,4,4,4,
 4,4,4,4, 4,4,4,4, 4,4,4,4, 3,3,3,3,
 3,3,3,3, 3,3,3,3, 3,3,3,3, 3,3,3,3,
 3]

DATA = {
    "52.80 %": {"WT": (WT_52, WT_52_SE), "sfp": (SFP_52, SFP_52_SE), "srfAC": (SRF_52, SRF_52_SE),
                "ppsC": (PPS_52, PPS_52_SE), "pksL": (PKS_52, PKS_52_SE), "control": (CTRL_52, CTRL_52_SE)},
    "34.85 %": {"WT": (WT_34, WT_34_SE), "sfp": (SFP_34, SFP_34_SE), "srfAC": (SRF_34, SRF_34_SE),
                "ppsC": (PPS_34, PPS_34_SE), "pksL": (PKS_34, PKS_34_SE), "control": (CTRL_34, CTRL_34_SE)},
    "23.00 %": {"WT": (WT_23, WT_23_SE), "sfp": (SFP_23, SFP_23_SE), "srfAC": (SRF_23, SRF_23_SE),
                "ppsC": (PPS_23, PPS_23_SE), "pksL": (PKS_23, PKS_23_SE), "control": (CTRL_23, CTRL_23_SE)},
    "15.18 %": {"WT": (WT_15, WT_15_SE), "sfp": (SFP_15, SFP_15_SE), "srfAC": (SRF_15, SRF_15_SE),
                "ppsC": (PPS_15, PPS_15_SE), "pksL": (PKS_15, PKS_15_SE), "control": (CTRL_15, CTRL_15_SE)},
    "10.02 %": {"WT": (WT_10, WT_10_SE), "sfp": (SFP_10, SFP_10_SE), "srfAC": (SRF_10, SRF_10_SE),
                "ppsC": (PPS_10, PPS_10_SE), "pksL": (PKS_10, PKS_10_SE), "control": (CTRL_10, CTRL_10_SE)},
}

LEGEND_TITLE = [("L. fusiformis", "bi"), (" +", "b")]
LEGEND_LABELS = {
    "WT": [("spent medium of WT", "r")],
    "sfp": [("spent medium of ", "r"), ("sfp", "i")],
    "srfAC": [("spent medium of ", "r"), ("srfAC", "i")],
    "ppsC": [("spent medium of ", "r"), ("Δ", "r"), ("ppsC", "i")],
    "pksL": [("spent medium of ", "r"), ("Δ", "r"), ("pksL", "i")],
    "control": [("control", "r")],
}
CAPTION = [
    [("Figure 7:", "b"), (" Growth curves of ", "r"), ("L. fusiformis", "i"),
     (" M5 exposed to spent media from 48 h ", "r"), ("B. subtilis", "i"),
     (" cultures and without treatment (\u201ccontrol\u201d). The spent medi-", "r")],
    [("um concentration of 10.02% to 52.80%, acquired with a serial dilution, indicates the "
      "proportion of spent medium from the total volume. The error bars", "r")],
    [("represent the standard error. ", "r"), ("N", "i"), (" \u2265 6. OD", "r"), ("600", "sub"),
     (" = optical density at 600 nm.", "r")],
]

_installed = {f.name for f in font_manager.fontManager.ttflist}
CAP_FAMILY = ["Liberation Sans Narrow", "DejaVu Sans"] if "Liberation Sans Narrow" in _installed \
    else ["Liberation Sans", "DejaVu Sans"]
MAIN_FAMILY = ["Liberation Sans", "DejaVu Sans"]

# ---------------- figure ----------------
fig = plt.figure(figsize=(W / DPI, H / DPI), dpi=DPI)
fig.patch.set_facecolor("white")
renderer = fig.canvas.get_renderer()


def fx(px):
    return px / W


def fy(py):
    return 1 - py / H


# page frame and caption box
fig.add_artist(Rectangle((fx(9), 0), 1 - fx(9), (H - 875) / H, transform=fig.transFigure,
                         facecolor="#ececec", edgecolor="none", zorder=0))
fig.add_artist(Line2D([fx(9), 1], [fy(14), fy(14)], transform=fig.transFigure, color="#dcdcdc", lw=1.0))
fig.add_artist(Line2D([fx(9), fx(9)], [fy(14), 0], transform=fig.transFigure, color="#dcdcdc", lw=1.0))

COLS = [(139.3, 496.0), (513.3, 869.3), (887.3, 1242.7)]
ROWS = [(82.7, 401.7), (453.3, 772.3)]
STRIPS = [(47.3, 82.7), (419.3, 453.3)]
POS = [(0, 0), (0, 1), (0, 2), (1, 0), (1, 1)]

bad = []
for idx, label in enumerate(PANEL_LABELS):
    r, c = POS[idx]
    x0, x1 = COLS[c]
    y0, y1 = ROWS[r]
    ax = fig.add_axes([fx(x0), fy(y1), (x1 - x0) / W, (y1 - y0) / H])
    ax.set_xlim(-0.93, 25.44)
    ax.set_ylim(-0.057, 1.247)
    ax.set_xticks(XTICKS)
    ax.set_yticks(YTICKS)
    ax.set_yticklabels(YTICK_LABELS)
    ax.set_axisbelow(True)
    ax.grid(True, color="#cfcfcf", linestyle=(0, (1, 2.6)), linewidth=0.9)
    for s in ax.spines.values():
        s.set_color("#333333")
        s.set_linewidth(1.0)
    ax.tick_params(axis="both", length=2.9, width=0.8, color="#333333",
                   labelcolor="#4d4d4d", labelsize=15.5)
    ax.tick_params(axis="y", pad=8)
    ax.tick_params(axis="x", pad=7)
    if c != 0:
        ax.tick_params(axis="y", length=0, labelleft=False)
    if not (r == 1 or idx == 2):
        ax.tick_params(axis="x", length=0, labelbottom=False)

    series = DATA[label]
    for k in SERIES_KEYS:
        v, e = series[k]
        if len(v) != 97 or len(e) != 97:
            bad.append(f"{label} {k}: {len(v)} / {len(e)}")
    # error bars layer
    for k in DRAW_ORDER:
        v, e = series[k]
        n = min(len(v), len(e), len(TIME_H))
        vv = np.asarray(v[:n], float) / 100
        ee = np.asarray(e[:n], float) / 100
        m = ee > 0
        ax.vlines(TIME_H[:n][m], (vv - ee)[m], (vv + ee)[m], colors=COLORS[k],
                  alpha=0.7, linewidth=1.2, zorder=2)
    # points layer
    for k in DRAW_ORDER:
        v, e = series[k]
        n = min(len(v), len(TIME_H))
        vv = np.asarray(v[:n], float) / 100
        ax.scatter(TIME_H[:n], vv, s=11, color=COLORS[k], linewidths=0, zorder=3)

    # strip
    s0, s1 = STRIPS[r]
    sax = fig.add_axes([fx(x0), fy(s1), (x1 - x0) / W, (s1 - s0) / H])
    sax.set_facecolor("#f0f0f0")
    sax.set_xticks([])
    sax.set_yticks([])
    for s in sax.spines.values():
        s.set_color("#333333")
        s.set_linewidth(1.2)
    sax.text(0.5, 0.42, label, transform=sax.transAxes, ha="center", va="center",
             fontsize=20, fontweight="bold", color="#1a1a1a")

    # x-axis title
    if r == 1 or idx == 2:
        fig.text(fx((x0 + x1) / 2 + 8), fy(y1 + 57), "time (h)", ha="center", va="center",
                 fontsize=23, color="black")
    # y-axis title
    if c == 0:
        off = y0 - ROWS[0][0]
        fig.text(fx(51.8), fy(313 + off), "OD", rotation=90, ha="center", va="bottom",
                 fontsize=27.5, color="black")
        fig.text(fx(47.5), fy(252 + off), "600", rotation=90, ha="center", va="bottom",
                 fontsize=14, color="black")


# ---------------- rich text helpers ----------------
def piece_kw(st, fs, family):
    kw = dict(fontsize=fs * 0.72 if st == "sub" else fs, family=family)
    if st in ("b", "bi"):
        kw["fontweight"] = "bold"
    if st in ("i", "bi"):
        kw["fontstyle"] = "italic"
    return kw


def measure(s, kw):
    t = fig.text(0, 0, s, **kw)
    w = t.get_window_extent(renderer).width
    t.remove()
    return w


def space_w(fs, family):
    return measure("a a", dict(fontsize=fs, family=family)) - measure("aa", dict(fontsize=fs, family=family))


def runs_to_words(runs):
    words = [[]]
    for text, st in runs:
        parts = text.split(" ")
        for j, p in enumerate(parts):
            if j > 0:
                words.append([])
            if p:
                words[-1].append((p, st))
    return [w for w in words if w]


def words_width(words, fs, family):
    widths = [[measure(p, piece_kw(st, fs, family)) for p, st in w] for w in words]
    return widths, sum(sum(ws) for ws in widths)


def natural_width(runs, fs, family):
    words = runs_to_words(runs)
    _, tot = words_width(words, fs, family)
    return tot + space_w(fs, family) * (len(words) - 1)


def draw_runs(x0, yb, runs, fs, family, color="#1a1a1a", target=None):
    words = runs_to_words(runs)
    widths, total = words_width(words, fs, family)
    if target is not None and len(words) > 1:
        gap = (target - total) / (len(words) - 1)
    else:
        gap = space_w(fs, family)
    x = x0
    for w, ws in zip(words, widths):
        for (p, st), pw in zip(w, ws):
            dy = 0.3 * fs * DPI / 72 if st == "sub" else 0
            fig.text(fx(x), fy(yb + dy), p, ha="left", va="baseline", color=color,
                     **piece_kw(st, fs, family))
            x += pw
        x += gap
    return x


# ---------------- legend ----------------
LEG_FS = 17.5
draw_runs(912, 525, LEGEND_TITLE, LEG_FS, MAIN_FAMILY, color="black")
for j, k in enumerate(SERIES_KEYS):
    yc = 560 + 39 * j
    fig.add_artist(Line2D([fx(930), fx(930)], [fy(yc - 16), fy(yc + 16)], transform=fig.transFigure,
                          color=COLORS[k], lw=1.6, alpha=0.85))
    fig.add_artist(Line2D([fx(930)], [fy(yc)], transform=fig.transFigure, marker="o",
                          markersize=2.6, color=COLORS[k], markeredgewidth=0))
    draw_runs(962, yc + 8.5, LEGEND_LABELS[k], LEG_FS, MAIN_FAMILY, color="#1a1a1a")

# ---------------- caption ----------------
fit1 = 12 * 1218 / natural_width(CAPTION[0], 12, CAP_FAMILY)
fit2 = 12 * 1223 / natural_width(CAPTION[1], 12, CAP_FAMILY)
CAP_FS = min(fit1, fit2)
draw_runs(25, 905, CAPTION[0], CAP_FS, CAP_FAMILY, target=1220)
draw_runs(25, 928.5, CAPTION[1], CAP_FS, CAP_FAMILY, target=1225)
draw_runs(25, 952, CAPTION[2], CAP_FS, CAP_FAMILY)

if bad:
    fig.text(0.5, 0.5, "\n".join(bad), color="red", fontsize=12, ha="center", va="center")

fig.savefig("out.png", dpi=DPI, facecolor="white")
